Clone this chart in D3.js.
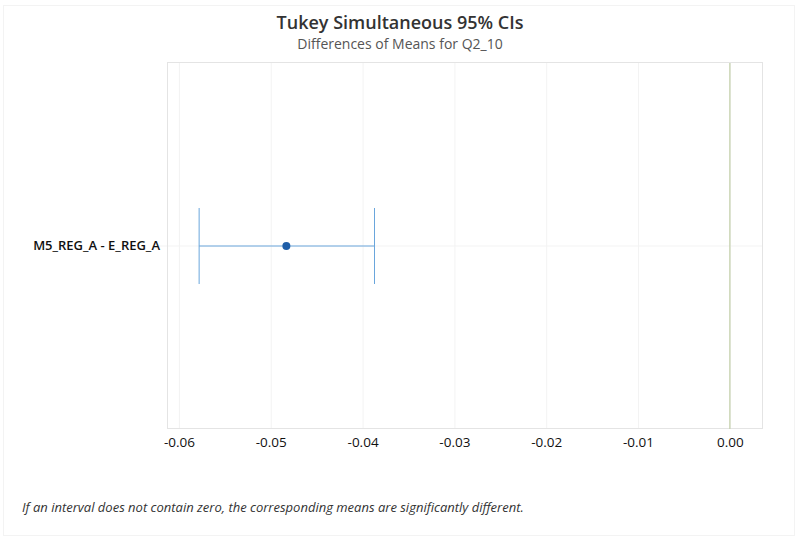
<!DOCTYPE html>
<html>
<head>
<meta charset="utf-8">
<style>
    body { margin: 0; background: #fff; }
    svg { display: block; font-family: 'Open Sans', 'Noto Sans', Arial, sans-serif; }
    .x .domain, .y .domain { display: none; }
    .x .tick line { stroke: #f3f3f3; }
    .x .tick text { font-size: 13.5px; fill: #111; font-weight: 500; }
    .y .tick line { stroke: #f3f3f3; }
    .y .tick text { font-size: 13px; fill: #111; font-weight: 600; }
</style>
</head>
<body>
<svg width="799" height="540"></svg>
<script src="https://d3js.org/d3.v7.min.js"></script>
<script>
// comparison, estimate and simultaneous interval
const comparisons = ["M5_REG_A - E_REG_A"];
const centers = [-0.0483];
const lowers = [-0.0578];
const uppers = [-0.0387];
const xTicks = [-0.06, -0.05, -0.04, -0.03, -0.02, -0.01, 0.00];

const svg = d3.select("svg");
const margin = { top: 63, right: 37, bottom: 111, left: 167 };
const width = 799, height = 540;

// faint outer frame
svg.append("rect")
    .attr("x", 3.5).attr("y", 5.5)
    .attr("width", 791).attr("height", 530)
    .style("fill", "none").style("stroke", "#f3f3f3");

svg.append("text")
    .attr("x", 400).attr("y", 29)
    .attr("text-anchor", "middle")
    .style("font-size", "18px").style("font-weight", 600).style("fill", "#333")
    .text("Tukey Simultaneous 95% CIs");

svg.append("text")
    .attr("x", 400).attr("y", 49)
    .attr("text-anchor", "middle")
    .style("font-size", "14px").style("fill", "#555")
    .text("Differences of Means for Q2_10");

let x = d3.scaleLinear()
    .domain([-0.0613, 0.0035])
    .range([margin.left, width - margin.right]);

let y = d3.scaleBand()
    .domain(comparisons)
    .range([margin.top, height - margin.bottom]);

let xAxis = d3.axisBottom(x)
    .tickValues(xTicks)
    .tickFormat(d => d.toFixed(2)) // plain hyphen minus like the original
    .tickSize(-(height - margin.bottom - margin.top))
    .tickPadding(8);

svg.append("g")
    .attr("class", "x axis")
    .attr("transform", `translate(0,${height - margin.bottom})`)
    .call(xAxis)
    .attr("font-family", null);

let yAxis = d3.axisLeft(y)
    .tickSize(-(width - margin.right - margin.left))
    .tickPadding(7);

let yg = svg.append("g")
    .attr("class", "y axis")
    .attr("transform", `translate(${margin.left},0)`)
    .call(yAxis)
    .attr("font-family", null);
yg.selectAll(".tick line").attr("x1", -8).attr("x2", width - margin.right - margin.left);

// plot border
svg.append("rect")
    .attr("x", margin.left + 0.5).attr("y", margin.top - 0.5)
    .attr("width", width - margin.left - margin.right)
    .attr("height", height - margin.top - margin.bottom)
    .style("fill", "none").style("stroke", "#e4e4e4");

// zero reference line
svg.append("line")
    .attr("x1", x(0)).attr("x2", x(0))
    .attr("y1", margin.top).attr("y2", height - margin.bottom)
    .style("stroke", "#c2cfa8").style("stroke-width", 1.2);

const capHalf = 38;
let rows = svg.append("g").selectAll("g")
    .data(comparisons)
    .join("g");

rows.append("line")
    .attr("x1", (d, i) => x(lowers[i])).attr("x2", (d, i) => x(uppers[i]))
    .attr("y1", d => y(d) + y.bandwidth() / 2).attr("y2", d => y(d) + y.bandwidth() / 2)
    .style("stroke", "#6aa6dc").style("stroke-width", 1);

rows.append("line")
    .attr("x1", (d, i) => x(lowers[i])).attr("x2", (d, i) => x(lowers[i]))
    .attr("y1", d => y(d) + y.bandwidth() / 2 - capHalf)
    .attr("y2", d => y(d) + y.bandwidth() / 2 + capHalf)
    .style("stroke", "#6aa6dc").style("stroke-width", 1);

rows.append("line")
    .attr("x1", (d, i) => x(uppers[i])).attr("x2", (d, i) => x(uppers[i]))
    .attr("y1", d => y(d) + y.bandwidth() / 2 - capHalf)
    .attr("y2", d => y(d) + y.bandwidth() / 2 + capHalf)
    .style("stroke", "#6aa6dc").style("stroke-width", 1);

rows.append("circle")
    .attr("cx", (d, i) => x(centers[i]))
    .attr("cy", d => y(d) + y.bandwidth() / 2)
    .attr("r", 4)
    .style("fill", "#1f5ea8");

svg.append("text")
    .attr("x", 22).attr("y", 512)
    .style("font-size", "13px").style("font-style", "italic").style("fill", "#333")
    .text("If an interval does not contain zero, the corresponding means are significantly different.");
</script>
</body>
</html>
